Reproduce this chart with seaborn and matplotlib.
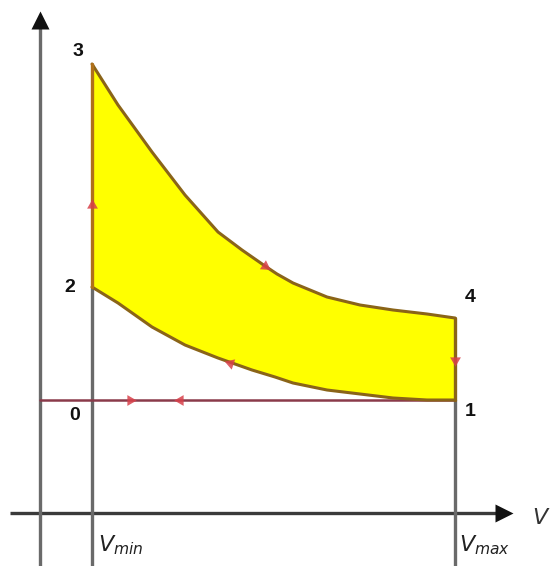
import numpy as np
import pandas as pd
import matplotlib
matplotlib.use("Agg")
import matplotlib.pyplot as plt
import seaborn as sns

# Otto cycle on a p-V diagram (arbitrary units: V from the p axis, p from the V axis)
V_MIN = 52
V_MAX = 415
V_AXIS_END = 472
P_AXIS_END = 501

# 3 -> 4 : expansion stroke
v_expansion = [52, 78, 112, 145, 178, 202, 225, 237, 253, 287, 320, 353, 387, 415]
p_expansion = [449, 408, 361, 318, 281, 263, 247, 239, 230, 216, 208, 203, 199, 195]

# 1 -> 2 : compression stroke
v_compression = [52, 78, 112, 145, 178, 195, 212, 235, 253, 287, 320, 353, 387, 415]
p_compression = [226, 210, 186, 168, 155, 149, 143, 136, 130, 123, 119, 115, 113, 113]

# intake / exhaust line 0 - 1
p_intake = 113

# state points and their labels
state_labels = ["3", "2", "4", "1", "0"]
state_v = [52, 52, 415, 415, 52]
state_p = [449, 226, 195, 113, 113]

sns.set_style("white")
plt.rcParams["font.family"] = ["Liberation Sans", "DejaVu Sans"]

fig = plt.figure(figsize=(5.5, 5.66), dpi=100)
ax = fig.add_axes([0, 0, 1, 1])
ax.set_xlim(-40, 510)
ax.set_ylim(-53, 513)
ax.axis("off")

axis_col = "#3a3a3a"
guide_col = "#6a6a6a"
stroke_col = "#8a6418"
arrow_col = "#d8404a"

# coordinate axes with arrowheads
ax.plot([-30, V_AXIS_END - 10], [0, 0], color=axis_col, lw=2.4, solid_capstyle="butt", zorder=2)
ax.plot([0, 0], [-53, P_AXIS_END - 12], color=guide_col, lw=2.4, zorder=2)
ax.plot(V_AXIS_END - 8, 0, marker=">", ms=13, color="#111111", mec="none", zorder=3)
ax.plot(0, P_AXIS_END - 8, marker="^", ms=13, color="#111111", mec="none", zorder=3)

# guide lines at V_min and V_max
ax.plot([V_MIN, V_MIN], [-53, p_compression[0]], color=guide_col, lw=2.4, zorder=2)
ax.plot([V_MAX, V_MAX], [-53, p_intake], color=guide_col, lw=2.4, zorder=2)

# intake line
ax.plot([0, V_MAX], [p_intake, p_intake], color="#8a3a4a", lw=1.8, zorder=3)

# filled cycle area
poly_v = np.concatenate([v_expansion, v_compression[::-1]])
poly_p = np.concatenate([p_expansion, p_compression[::-1]])
ax.fill(poly_v, poly_p, color="#ffff00", zorder=1, lw=0)

exp_df = pd.DataFrame({"V": v_expansion, "p": p_expansion})
comp_df = pd.DataFrame({"V": v_compression, "p": p_compression})
sns.lineplot(data=exp_df, x="V", y="p", ax=ax, color=stroke_col, lw=2.2,
             sort=False, estimator=None, zorder=4)
sns.lineplot(data=comp_df, x="V", y="p", ax=ax, color=stroke_col, lw=2.2,
             sort=False, estimator=None, zorder=4)
ax.plot([V_MIN, V_MIN], [p_compression[0], p_expansion[0]], color="#b0701a", lw=2.4, zorder=4)
ax.plot([V_MAX, V_MAX], [p_intake, p_expansion[-1]], color=stroke_col, lw=2.4, zorder=4)
ax.set_xlabel("")
ax.set_ylabel("")

# direction arrows along the cycle (triangle rotated to point along the path)
def direction_arrow(v, p, heading_deg):
    ax.plot(v, p, marker=(3, 0, heading_deg - 90), ms=9, color=arrow_col,
            mec="none", zorder=5, alpha=0.85)

direction_arrow(V_MIN, 308, 90)
direction_arrow(225, 247, -34)
direction_arrow(V_MAX, 153, -90)
direction_arrow(190, 150, 161)
direction_arrow(90, p_intake, 0)
direction_arrow(140, p_intake, 180)

# state point labels
offsets = {"3": (-14, 12), "2": (-22, 0), "4": (15, 20), "1": (15, -12), "0": (-17, -15)}
for lab, v, p in zip(state_labels, state_v, state_p):
    dx, dy = offsets[lab]
    ax.text(v + dx, p + dy, lab, fontsize=14, fontweight="bold", ha="center",
            va="center", color="#111111")

ax.text(V_MIN + 6, -32, r"$V_{min}$", fontsize=16, ha="left", va="center", color="#222222")
ax.text(V_MAX + 4, -32, r"$V_{max}$", fontsize=16, ha="left", va="center", color="#222222")
ax.text(V_AXIS_END + 20, -5, r"$V$", fontsize=16, ha="left", va="center", color="#333333")

fig.savefig("out.png", dpi=100)
